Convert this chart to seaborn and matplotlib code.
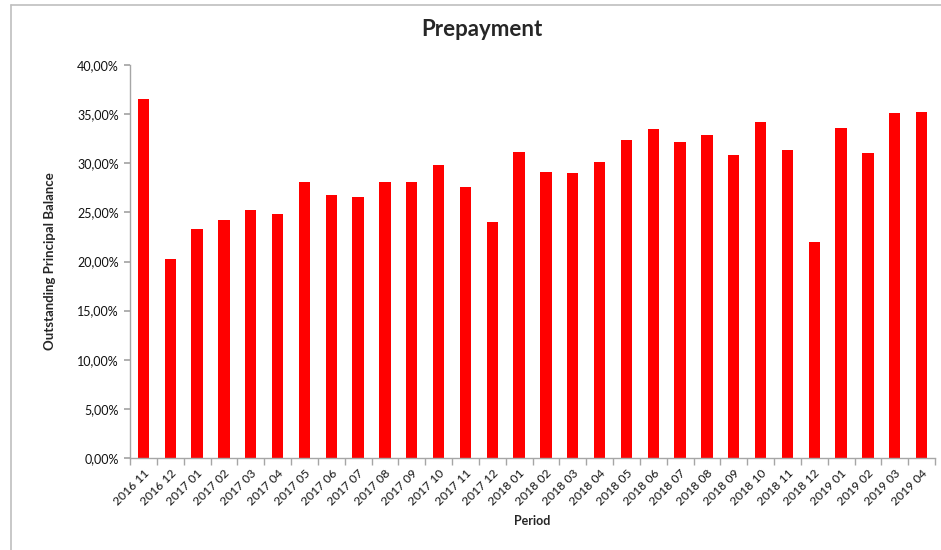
import matplotlib
matplotlib.use("Agg")
import matplotlib.pyplot as plt
import seaborn as sns
import pandas as pd
import numpy as np
from matplotlib.ticker import FuncFormatter, FixedLocator, MultipleLocator
from matplotlib.lines import Line2D

periods = ["2016 11", "2016 12", "2017 01", "2017 02", "2017 03", "2017 04", "2017 05",
           "2017 06", "2017 07", "2017 08", "2017 09", "2017 10", "2017 11", "2017 12",
           "2018 01", "2018 02", "2018 03", "2018 04", "2018 05", "2018 06", "2018 07",
           "2018 08", "2018 09", "2018 10", "2018 11", "2018 12", "2019 01", "2019 02",
           "2019 03", "2019 04"]
prepayment = [36.5, 20.25, 23.3, 24.2, 25.2, 24.8, 28.1, 26.8, 26.6, 28.1, 28.1, 29.8,
              27.6, 24.0, 31.1, 29.1, 29.0, 30.1, 32.4, 33.5, 32.2, 32.9, 30.8, 34.2,
              31.3, 22.0, 33.6, 31.0, 35.1, 35.2]

df = pd.DataFrame({"Period": periods, "Prepayment": prepayment})

sns.set_theme(style="white")
plt.rcParams["font.family"] = ["Lato", "DejaVu Sans"]

fig = plt.figure(figsize=(9.41, 5.5), dpi=100)
ax = fig.add_axes([130/941, 1-458/550, (935-130)/941, (458-65)/550])

sns.barplot(data=df, x="Period", y="Prepayment", color="#FF0000", width=0.42,
            saturation=1, ax=ax, edgecolor="none")

ax.set_ylim(0, 40)
ax.set_xlim(-0.5, len(periods) - 0.5)
ax.yaxis.set_major_locator(MultipleLocator(5))
ax.yaxis.set_major_formatter(FuncFormatter(lambda v, p: f"{v:.2f}".replace(".", ",") + "%"))

gray = "#A6A6A6"
for s in ["top", "right"]:
    ax.spines[s].set_visible(False)
for s in ["left", "bottom"]:
    ax.spines[s].set_color(gray)
    ax.spines[s].set_linewidth(1.0)

ax.tick_params(axis="y", which="major", direction="out", length=4, color=gray,
               labelsize=9, labelcolor="#111111", pad=4, left=True)
ax.set_xticks(range(len(periods)))
ax.set_xticklabels(periods, rotation=45, ha="right", rotation_mode="anchor",
                   fontsize=8.7, color="#111111")
ax.tick_params(axis="x", which="major", length=0, pad=7)
ax.xaxis.set_minor_locator(FixedLocator(np.arange(-0.5, len(periods), 1.0)))
ax.tick_params(axis="x", which="minor", direction="out", length=5, color=gray, bottom=True)

ax.set_xlabel("")
ax.set_ylabel("")
fig.text(532/941, 1-521/550, "Period", fontsize=9, fontweight="bold",
         ha="center", va="center")
fig.text(50/941, 1-261/550, "Outstanding Principal Balance", rotation=90, fontsize=9.5,
         fontweight="bold", ha="center", va="center")
fig.text(482/941, 1-30/550, "Prepayment", fontsize=16, fontweight="bold",
         ha="center", va="center")

# outer chart frame (top and left edges visible)
fig.add_artist(Line2D([11/941, 1.0], [1-4.5/550, 1-4.5/550], transform=fig.transFigure,
                      color="#BFBFBF", linewidth=1.2))
fig.add_artist(Line2D([11/941, 11/941], [0, 1-4.5/550], transform=fig.transFigure,
                      color="#BFBFBF", linewidth=1.2))

fig.savefig("out.png", dpi=100, facecolor="white")
